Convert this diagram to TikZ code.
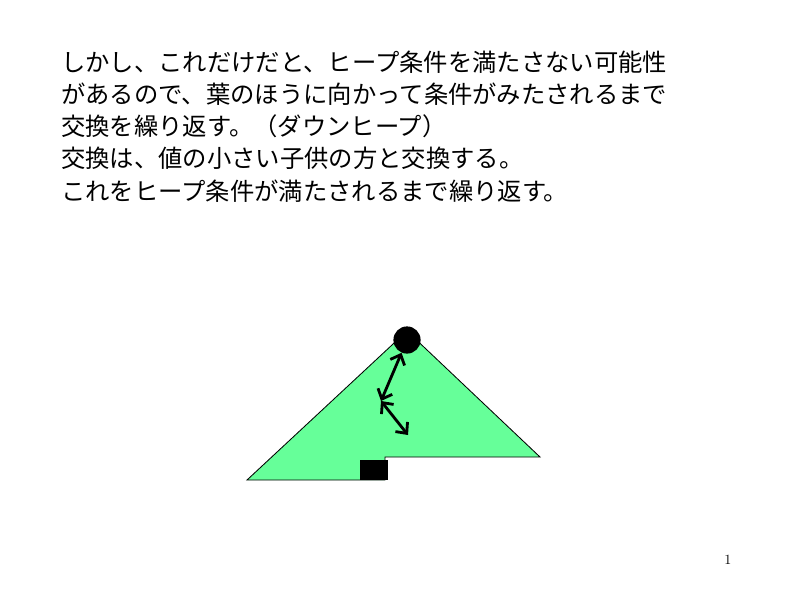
\documentclass[tikz,border=0pt]{standalone}
\usepackage{fontspec}
\newfontfamily\jpfont{Noto Sans CJK JP}
\usetikzlibrary{arrows.meta}
\definecolor{heapgreen}{RGB}{102,255,153}
\begin{document}
\begin{tikzpicture}[x=0.025cm, y=-0.025cm, >={Straight Barb[length=6pt,width=11pt]}]
\useasboundingbox (0,0) rectangle (800,600);
\node [anchor=north west, align=left, inner sep=0pt, font=\jpfont\fontsize{17.3}{22.8}\selectfont] (txt) at (61,51) {しかし、これだけだと、ヒープ条件を満たさない可能性\\があるので、葉のほうに向かって条件がみたされるまで\\交換を繰り返す。（ダウンヒープ）\\交換は、値の小さい子供の方と交換する。\\これをヒープ条件が満たされるまで繰り返す。};
\coordinate (apex) at (407,331);
\coordinate (bl) at (247,480);
\coordinate (br) at (540,457);
\coordinate (sa) at (385,457);
\coordinate (sb) at (385,480);
\filldraw [fill=heapgreen, draw=black, line width=0.6pt] (bl) -- (apex) -- (br) -- (sa) -- (sb) -- cycle;
\node [circle, fill=black, minimum size=0.68cm, inner sep=0pt] (root) at (407,340) {};
\node [fill=black, minimum width=0.7cm, minimum height=0.5cm, inner sep=0pt] (leaf) at (374,470) {};
\coordinate (mid) at (381,401);
\coordinate (low) at (408,435);
\draw [<->, line width=2pt] (root) -- (mid);
\draw [<->, line width=2pt] (mid) -- (low);
\node [font=\fontsize{10}{12}\selectfont] (pageno) at (728,560) {1};
\end{tikzpicture}
\end{document}
